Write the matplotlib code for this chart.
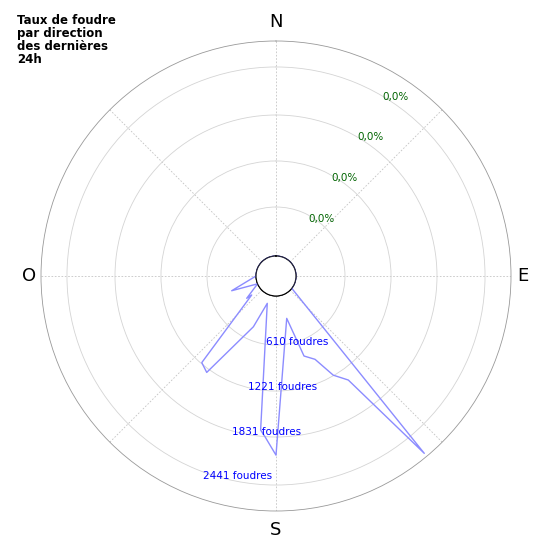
import numpy as np
import matplotlib
matplotlib.use("Agg")
import matplotlib.pyplot as plt

# bearings (deg, clockwise from N) and strike counts
bearings = [128, 140.1, 145.2, 150, 154.9, 160.7, 165.8, 180, 183.9, 185.7, 197.7,
            204, 215.7, 220.6, 232, 232.7, 247, 251.6, 270]
counts = [0, 2862, 1446, 1281, 976, 878, 321, 2157, 1913, 1827, 118,
          482, 1338, 1275, 147, 228, 0, 362, 0]
ring_values = [664, 1288, 1911, 2562]
ring_labels = ["610 foudres", "1221 foudres", "1831 foudres", "2441 foudres"]
pct_labels = ["0,0%", "0,0%", "0,0%", "0,0%"]
cardinals = ["N", "E", "S", "O"]

rmax = 2914
fig = plt.figure(figsize=(5.5, 5.5), dpi=100)
ax = fig.add_axes([41/550, 39/550, 470/550, 470/550], projection="polar")
ax.set_theta_zero_location("N")
ax.set_theta_direction(-1)
ax.set_ylim(0, rmax)
ax.set_rorigin(-20/215*rmax)

extra_b = list(np.arange(280, 361, 10)) + list(np.arange(10, 121, 10))
b_all = bearings + extra_b + [bearings[0]]
c_all = counts + [0]*len(extra_b) + [counts[0]]
th = np.deg2rad(b_all)
ax.plot(th, c_all, color="#8c8cff", lw=1.0, zorder=3)

circ = np.linspace(0, 2*np.pi, 200)
ax.plot(circ, np.zeros_like(circ), color="black", lw=0.8, zorder=4)

ax.set_yticks(ring_values)
ax.set_yticklabels([])
ax.set_xticks(np.deg2rad(np.arange(0, 360, 45)))
ax.set_xticklabels([])
ax.grid(True, color="#c4c4c4", lw=0.6, ls=(0, (2, 2)))
ax.yaxis.grid(True, color="#d4d4d4", lw=0.6, ls="-")
ax.spines["polar"].set_color("#999999")
ax.spines["polar"].set_linewidth(0.6)
ax.spines["inner"].set_visible(False)

for ang, r, t in zip([162.4, 176.4, 183.3, 191], [668, 1236, 1849, 2491], ring_labels):
    ax.text(np.deg2rad(ang), r, t, color="blue", fontsize=7.5, ha="center", va="center")
for ang, r, t in zip([38.9, 35.1, 34.1, 33.8], [718, 1355, 2004, 2651], pct_labels):
    ax.text(np.deg2rad(ang), r, t, color="darkgreen", fontsize=7.5, ha="center", va="center")
for ang, rr, t in zip([0, 90, 180, 270], [3172, 3077, 3172, 3077], cardinals):
    ax.text(np.deg2rad(ang), rr, t, fontsize=13, ha="center", va="center", clip_on=False)

fig.text(17/550, 1-14/550, "Taux de foudre\npar direction\ndes dernières\n24h",
         fontsize=8.5, fontweight="bold", va="top", ha="left", linespacing=1.0)
fig.savefig("out.png", dpi=100)
